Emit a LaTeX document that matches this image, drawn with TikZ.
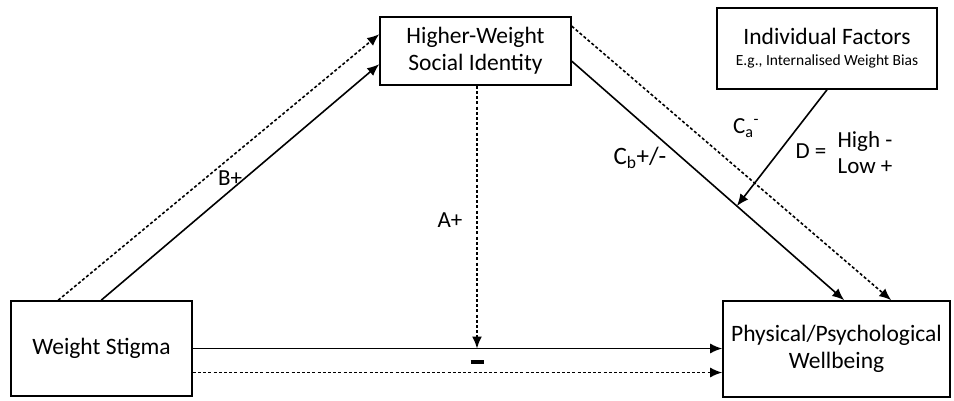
\documentclass[tikz,border=0pt]{standalone}
\usepackage{fontspec}
\setmainfont{Carlito}
\usetikzlibrary{arrows.meta,calc}
\begin{document}
\begin{tikzpicture}[x=1pt,y=-1pt,
  box/.style={draw,line width=1.6pt,inner sep=0pt,align=center,font=\fontsize{23.5}{27}\selectfont},
  conn/.style={line width=1.6pt,-{Latex[length=12pt,width=10pt]}},
  dotted line/.style={conn,dash pattern=on 3pt off 2.2pt},
  lbl/.style={font=\fontsize{23}{26}\selectfont,inner sep=0pt}]
\useasboundingbox (0,0) rectangle (954,400);
\node[box,minimum width=191pt,minimum height=68pt] (hw) at (475.5,51) {Higher-Weight\\Social Identity};
\node[box,minimum width=220pt,minimum height=81pt] (ind) at (827,48.5) {Individual Factors\\[-6pt]{\fontsize{15.5}{18}\selectfont E.g., Internalised Weight Bias}};
\node[box,minimum width=181pt,minimum height=95pt] (ws) at (101.5,348.5) {Weight Stigma};
\node[box,minimum width=227pt,minimum height=96pt] (wb) at (836.5,349) {Physical/Psychological\\Wellbeing};
% B paths
\draw[dotted line] ($(ws.north west)+(48,0)$) -- ($(hw.north west)+(0,18)$);
\draw[conn] ($(ws.north west)+(91,0)$) -- ($(hw.north west)+(0,48)$);
% direct paths
\draw[conn] (ws.east) -- (ws.east -| wb.west);
\coordinate (amid) at (ws.east -| hw.south);
\draw[dotted line] ($(ws.east)+(0,24)$) coordinate (d0) -- (d0 -| wb.west);
% A path
\draw[dotted line] ($(hw.south)+(1.5,0)$) -- ($(amid)+(1.5,0)$);
% C paths
\draw[conn] ($(hw.north east)+(0,45)$) -- coordinate[pos=0.606] (cbpt) ($(wb.north west)+(122,0)$);
\draw[dotted line] ($(hw.north east)+(0,10)$) -- ($(wb.north west)+(169,0)$);
% D path
\draw[conn] (ind.south) -- (cbpt);
% labels
\node[lbl] (lb) at (230,178) {B+};
\node[lbl] (la) at (450,220) {A+};
\node[inner sep=0pt] (lm) at (477,362) {\rule{13pt}{4pt}};
\node[lbl,font=\fontsize{25}{28}\selectfont] (lcb) at (640,158) {C\textsubscript{b}+/-};
\node[lbl] (lca) at (746,128) {C\textsubscript{a}\textsuperscript{-}};
\node[lbl] (ld) at (811,151) {D =};
\node[lbl,align=left] (lhl) at (865,153) {High -\\Low +};
\end{tikzpicture}
\end{document}
